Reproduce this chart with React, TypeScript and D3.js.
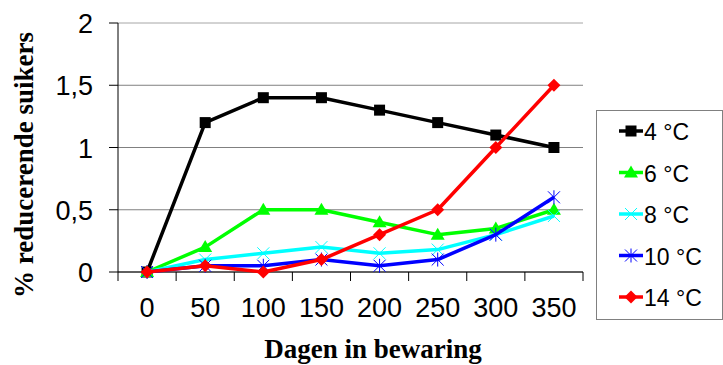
import React from "react";
import * as d3 from "d3";

const days = ["0", "50", "100", "150", "200", "250", "300", "350"];
const yTicks = [0, 0.5, 1, 1.5, 2];
const series4 = [0, 1.2, 1.4, 1.4, 1.3, 1.2, 1.1, 1.0];
const series6 = [0, 0.2, 0.5, 0.5, 0.4, 0.3, 0.35, 0.5];
const series8 = [0, 0.1, 0.15, 0.2, 0.15, 0.18, 0.3, 0.45];
const series10 = [0, 0.05, 0.05, 0.1, 0.05, 0.1, 0.3, 0.6];
const series14 = [0, 0.05, 0, 0.1, 0.3, 0.5, 1.0, 1.5];

const seriesList = [
  { name: "4 °C", values: series4, color: "#000000", marker: "square" },
  { name: "6 °C", values: series6, color: "#00ff00", marker: "triangle" },
  { name: "8 °C", values: series8, color: "#00ffff", marker: "x" },
  { name: "10 °C", values: series10, color: "#0000ff", marker: "star" },
  { name: "14 °C", values: series14, color: "#ff0000", marker: "diamond" },
];

const W = 723;
const H = 365;
const left = 118;
const right = 583;
const top = 23;
const bottom = 272;

function Marker({ type, x, y, color }: { type: string; x: number; y: number; color: string }) {
  if (type === "square") {
    return <rect x={x - 5.5} y={y - 5.5} width={11} height={11} fill={color} />;
  }
  if (type === "triangle") {
    return <path d={`M${x},${y - 7}L${x + 7},${y + 5}L${x - 7},${y + 5}Z`} fill={color} />;
  }
  if (type === "diamond") {
    return <path d={`M${x},${y - 6.5}L${x + 6.5},${y}L${x},${y + 6.5}L${x - 6.5},${y}Z`} fill={color} />;
  }
  if (type === "x") {
    const s = 6;
    return (
      <path
        d={`M${x - s},${y - s}L${x + s},${y + s}M${x - s},${y + s}L${x + s},${y - s}`}
        stroke={color}
        strokeWidth={1}
      />
    );
  }
  // star: x with vertical stroke
  const s = 6;
  return (
    <path
      d={`M${x - s},${y - s}L${x + s},${y + s}M${x - s},${y + s}L${x + s},${y - s}M${x},${y - s - 1}L${x},${y + s + 1}`}
      stroke={color}
      strokeWidth={1}
    />
  );
}

export default function App() {
  const x = d3.scaleBand<string>().domain(days).range([left, right]);
  const y = d3.scaleLinear().domain([0, 2]).range([bottom, top]);
  const cx = (d: string) => (x(d) as number) + x.bandwidth() / 2;
  const line = d3
    .line<number>()
    .x((_, i) => cx(days[i]))
    .y((v) => y(v));

  const tickEdges = days.map((d) => x(d) as number).concat([right]);

  return (
    <svg
      width={W}
      height={H}
      style={{ position: "absolute", left: 0, top: 0, background: "#fff" }}
      fontFamily="Arial, 'Liberation Sans', sans-serif"
    >
      {/* gridlines */}
      {yTicks.map((t) => (
        <line
          key={t}
          x1={left}
          x2={right}
          y1={y(t)}
          y2={y(t)}
          stroke={t === 2 ? "#a6a6a6" : "#808080"}
          strokeWidth={1}
        />
      ))}
      {/* y axis */}
      <line x1={left} x2={left} y1={top} y2={bottom} stroke="#000" />
      {yTicks.map((t) => (
        <g key={"yt" + t}>
          <line x1={left - 9} x2={left} y1={y(t)} y2={y(t)} stroke="#000" />
          <text x={93} y={y(t) + 10} textAnchor="end" fontSize={27}>
            {String(t).replace(".", ",")}
          </text>
        </g>
      ))}
      {/* x axis */}
      <line x1={left} x2={right} y1={bottom} y2={bottom} stroke="#000" />
      {tickEdges.map((e, i) => (
        <line key={"xt" + i} x1={e} x2={e} y1={bottom} y2={bottom + 9} stroke="#000" />
      ))}
      {days.map((d) => (
        <text key={"xl" + d} x={cx(d)} y={316.5} textAnchor="middle" fontSize={27}>
          {d}
        </text>
      ))}
      {/* series */}
      {seriesList.map((s) => (
        <g key={s.name}>
          <path d={line(s.values) as string} fill="none" stroke={s.color} strokeWidth={3.5} strokeLinejoin="round" />
          {s.values.map((v, i) => (
            <Marker key={i} type={s.marker} x={cx(days[i])} y={y(v)} color={s.color} />
          ))}
        </g>
      ))}
      {/* axis titles */}
      <text
        transform="translate(33,165) rotate(-90)"
        textAnchor="middle"
        fontFamily="'Liberation Serif', 'Times New Roman', serif"
        fontWeight="bold"
        fontSize={27}
      >
        % reducerende suikers
      </text>
      <text
        x={373}
        y={358}
        textAnchor="middle"
        fontFamily="'Liberation Serif', 'Times New Roman', serif"
        fontWeight="bold"
        fontSize={27}
      >
        Dagen in bewaring
      </text>
      {/* legend */}
      <rect x={596.5} y={110.5} width={126} height={209} fill="#fff" stroke="#808080" />
      {seriesList.map((s, i) => {
        const ly = 131 + i * 41.5;
        return (
          <g key={"lg" + s.name}>
            <line x1={619} x2={643} y1={ly} y2={ly} stroke={s.color} strokeWidth={3.5} />
            <Marker type={s.marker} x={631} y={ly} color={s.color} />
            <text x={644} y={ly + 9} fontSize={23}>
              {s.name}
            </text>
          </g>
        );
      })}
    </svg>
  );
}
